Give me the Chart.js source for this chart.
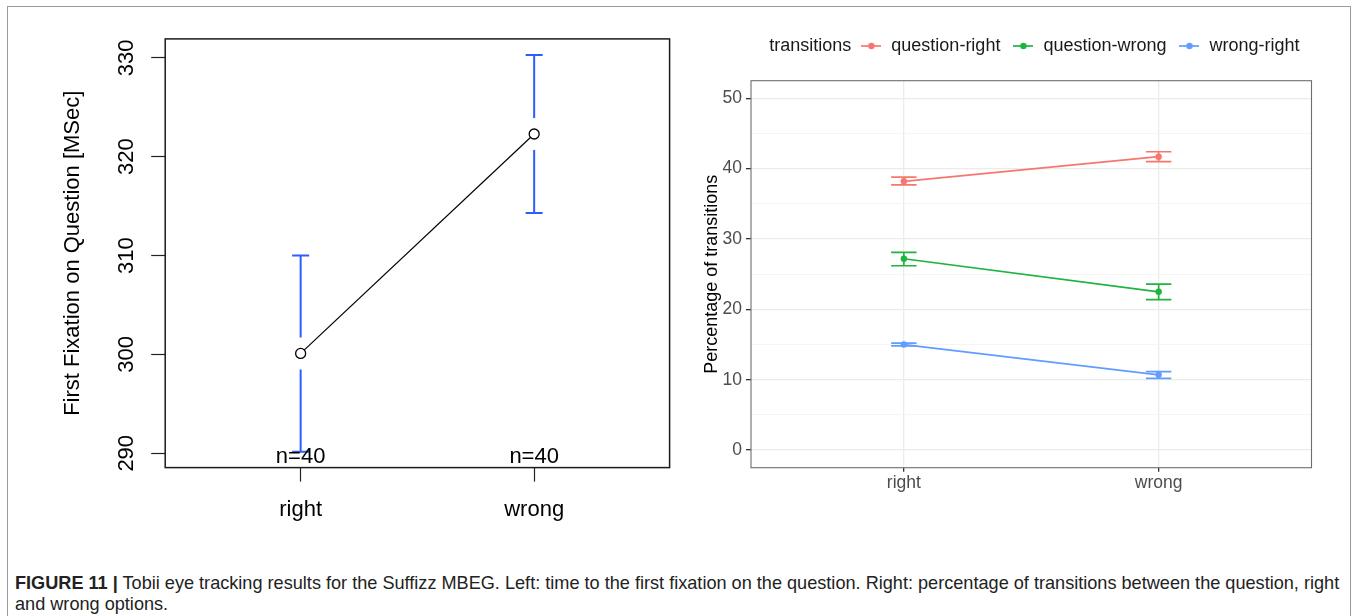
<!DOCTYPE html>
<html><head><meta charset="utf-8">
<script src="https://cdn.jsdelivr.net/npm/chart.js@4.4.1/dist/chart.umd.min.js"></script>
<style>
html,body{margin:0;padding:0;background:#fff;width:1357px;height:616px;overflow:hidden;}
#frame{position:absolute;left:7px;top:6px;width:1344px;height:700px;border:1px solid #9a9a9a;box-sizing:border-box;}
#c1{position:absolute;left:20px;top:10px;width:660px;height:520px;}
#c2{position:absolute;left:690px;top:20px;width:652px;height:500px;}
#cap{position:absolute;left:15px;top:573px;font:18.14px "Liberation Sans",Arial,sans-serif;line-height:21px;color:#222;white-space:nowrap;}
</style></head><body>
<div id="frame"></div>
<canvas id="c1" width="660" height="520"></canvas>
<canvas id="c2" width="652" height="500"></canvas>
<div id="cap"><b>FIGURE 11 |</b> Tobii eye tracking results for the Suffizz MBEG. Left: time to the first fixation on the question. Right: percentage of transitions between the question, right<br>and wrong options.</div>
<script>
// ---- data ----
const categories = ['right', 'wrong'];
// left panel
const fixMeans = [300.1, 322.3];
const fixLower = [290.15, 314.3];
const fixUpper = [310.0, 330.3];
const fixCounts = ['n=40', 'n=40'];
const fixYTicks = [290, 300, 310, 320, 330];
const fixYTitle = 'First Fixation on Question [MSec]';
// right panel
const seriesNames = ['question-right', 'question-wrong', 'wrong-right'];
const qRightMean = [38.2, 41.7];
const qRightLow = [37.7, 41.0];
const qRightHigh = [38.8, 42.4];
const qWrongMean = [27.2, 22.5];
const qWrongLow = [26.2, 21.4];
const qWrongHigh = [28.1, 23.6];
const wRightMean = [15.0, 10.7];
const wRightLow = [14.8, 10.2];
const wRightHigh = [15.2, 11.15];
const pctYTicks = [0, 10, 20, 30, 40, 50];
const pctYMinor = [5, 15, 25, 35, 45];
const pctYTitle = 'Percentage of transitions';
const legendTitle = 'transitions';

// ---- styles ----
const FONT = '"Liberation Sans", Arial, Helvetica, sans-serif';
Chart.defaults.font.family = FONT;
const seriesColors = ['#F8766D', '#1DB440', '#619CFF'];
const pctSeries = [
  {mean: qRightMean, low: qRightLow, high: qRightHigh},
  {mean: qWrongMean, low: qWrongLow, high: qWrongHigh},
  {mean: wRightMean, low: wRightLow, high: wRightHigh}
];
const xy = arr => arr.map((v, i) => ({x: i + 1, y: v}));

// ---- left chart ----
const leftPlugin = {
  id: 'leftDeco',
  afterDatasetsDraw(chart) {
    const {ctx, chartArea: a, scales: {x, y}} = chart;
    ctx.save();
    ctx.strokeStyle = '#2f5cff';
    ctx.lineWidth = 2;
    const gap = 16, cap = 8.5;
    fixMeans.forEach((m, i) => {
      const px = x.getPixelForValue(i + 1);
      const pm = y.getPixelForValue(m);
      const pl = y.getPixelForValue(fixLower[i]);
      const pu = y.getPixelForValue(fixUpper[i]);
      ctx.beginPath();
      ctx.moveTo(px, pu); ctx.lineTo(px, pm - gap);
      ctx.moveTo(px, pm + gap); ctx.lineTo(px, pl);
      ctx.moveTo(px - cap, pu); ctx.lineTo(px + cap, pu);
      ctx.moveTo(px - cap, pl); ctx.lineTo(px + cap, pl);
      ctx.stroke();
    });
    ctx.strokeStyle = '#1a1a1a';
    ctx.lineWidth = 1.5;
    ctx.strokeRect(a.left, a.top, a.right - a.left, a.bottom - a.top);
    ctx.fillStyle = '#000';
    ctx.font = '22px ' + FONT;
    ctx.textAlign = 'center';
    ctx.textBaseline = 'alphabetic';
    fixCounts.forEach((t, i) => {
      ctx.fillText(t, x.getPixelForValue(i + 1), a.bottom - 5);
    });
    ctx.restore();
  }
};

new Chart(document.getElementById('c1'), {
  type: 'line',
  data: {datasets: [{
    label: 'mean', data: xy(fixMeans),
    borderColor: '#000', borderWidth: 1.2, tension: 0,
    pointRadius: 5, pointHoverRadius: 5, pointBorderWidth: 1.3,
    pointBorderColor: '#000', pointBackgroundColor: '#fff'
  }]},
  options: {
    responsive: false, animation: false, events: [],
    layout: {padding: {top: 28.9, right: 10.4, left: 0, bottom: 0}},
    plugins: {legend: {display: false}, tooltip: {enabled: false}},
    scales: {
      x: {
        type: 'linear', min: 0.42, max: 2.58,
        afterBuildTicks(s) { s.ticks = categories.map((c, i) => ({value: i + 1})); },
        afterFit(s) { s.height = 62.4; },
        ticks: {font: {size: 22}, color: '#000', padding: 14.8, maxRotation: 0, autoSkip: false,
                callback: (v, i) => categories[i]},
        grid: {drawOnChartArea: false, tickLength: 14, tickColor: '#222', tickWidth: 1.2},
        border: {display: false}
      },
      y: {
        type: 'linear', min: 288.55, max: 331.92,
        afterBuildTicks(s) { s.ticks = fixYTicks.map(v => ({value: v})); },
        afterFit(s) { s.width = 145.2; },
        ticks: {font: {size: 22}, color: '#000', padding: 5.85, minRotation: 90, maxRotation: 90,
                crossAlign: 'center', autoSkip: false, callback: v => String(v)},
        grid: {drawOnChartArea: false, tickLength: 14, tickColor: '#222', tickWidth: 1.2},
        border: {display: false},
        title: {display: true, text: fixYTitle, font: {size: 22}, color: '#000', padding: {top: 39.3, bottom: 0}}
      }
    }
  },
  plugins: [leftPlugin]
});

// ---- right chart ----
function keyImage(color) {
  const c = document.createElement('canvas');
  c.width = 20; c.height = 8;
  const g = c.getContext('2d');
  g.strokeStyle = color; g.lineWidth = 1.7;
  g.beginPath(); g.moveTo(0, 4); g.lineTo(20, 4); g.stroke();
  g.fillStyle = color;
  g.beginPath(); g.arc(10, 4, 3.2, 0, Math.PI * 2); g.fill();
  return c;
}
const keyImgs = seriesColors.map(keyImage);
const errHalfWidth = 0.05;
const isMajor = v => pctYTicks.includes(v);

const rightPlugin = {
  id: 'rightDeco',
  beforeDatasetsDraw(chart) {
    const {ctx, scales: {x, y}} = chart;
    ctx.save();
    ctx.lineWidth = 1.7;
    pctSeries.forEach((s, k) => {
      ctx.strokeStyle = seriesColors[k];
      s.mean.forEach((m, i) => {
        const px = x.getPixelForValue(i + 1);
        const x0 = x.getPixelForValue(i + 1 - errHalfWidth);
        const x1 = x.getPixelForValue(i + 1 + errHalfWidth);
        const pl = y.getPixelForValue(s.low[i]);
        const ph = y.getPixelForValue(s.high[i]);
        ctx.beginPath();
        ctx.moveTo(px, pl); ctx.lineTo(px, ph);
        ctx.moveTo(x0, pl); ctx.lineTo(x1, pl);
        ctx.moveTo(x0, ph); ctx.lineTo(x1, ph);
        ctx.stroke();
      });
    });
    ctx.restore();
  },
  afterDraw(chart) {
    const {ctx, chartArea: a} = chart;
    ctx.save();
    ctx.strokeStyle = '#6e6e6e';
    ctx.lineWidth = 1.1;
    ctx.strokeRect(a.left, a.top, a.right - a.left, a.bottom - a.top);
    const hb = chart.legend.legendHitBoxes[0];
    if (hb) {
      ctx.font = '18px ' + FONT;
      ctx.fillStyle = '#1a1a1a';
      ctx.textAlign = 'right';
      ctx.textBaseline = 'middle';
      ctx.fillText(legendTitle, hb.left - 9, hb.top + hb.height / 2);
    }
    ctx.restore();
  }
};

new Chart(document.getElementById('c2'), {
  type: 'line',
  data: {datasets: seriesNames.map((name, k) => ({
    label: name, data: xy(pctSeries[k].mean),
    borderColor: seriesColors[k], backgroundColor: seriesColors[k],
    borderWidth: 1.7, tension: 0,
    pointRadius: 3.2, pointHoverRadius: 3.2, pointBorderWidth: 0
  }))},
  options: {
    responsive: false, animation: false, events: [],
    layout: {padding: {top: 5, right: 30.5, left: 0, bottom: 0}},
    plugins: {
      tooltip: {enabled: false},
      title: {display: true, text: '', weight: 100, padding: {top: 0, bottom: 14.7}, font: {size: 1, lineHeight: 1}},
      legend: {
        position: 'top', align: 'end', fullSize: false, weight: 1000,
        labels: {
          usePointStyle: true, pointStyleWidth: 22, padding: 12,
          font: {size: 18}, color: '#1a1a1a',
          generateLabels(chart) {
            const items = Chart.defaults.plugins.legend.labels.generateLabels(chart);
            items.forEach(it => { it.pointStyle = keyImgs[it.datasetIndex]; });
            return items;
          }
        }
      }
    },
    scales: {
      x: {
        type: 'linear', min: 0.4, max: 2.6,
        afterBuildTicks(s) { s.ticks = categories.map((c, i) => ({value: i + 1})); },
        afterFit(s) { s.height = 52.3; },
        ticks: {font: {size: 17.5}, color: '#4d4d4d', padding: 1, maxRotation: 0, autoSkip: false,
                callback: (v, i) => categories[i]},
        grid: {color: '#ebebeb', lineWidth: 1.3, tickColor: '#333', tickLength: 4},
        border: {display: false}
      },
      y: {
        type: 'linear', min: -2.5, max: 52.5,
        afterBuildTicks(s) {
          s.ticks = pctYTicks.concat(pctYMinor).sort((a, b) => a - b).map(v => ({value: v}));
        },
        afterFit(s) { s.width = 61; },
        ticks: {font: {size: 17.5}, color: '#4d4d4d', padding: 4, autoSkip: false,
                callback: v => isMajor(v) ? String(v) : ''},
        grid: {
          color: c => (c.tick && isMajor(c.tick.value)) ? '#ebebeb' : '#f3f3f3',
          lineWidth: c => (c.tick && isMajor(c.tick.value)) ? 1.3 : 0.8,
          tickColor: c => (c.tick && isMajor(c.tick.value)) ? '#333' : 'rgba(0,0,0,0)',
          tickLength: 5
        },
        border: {display: false},
        title: {display: true, text: pctYTitle, font: {size: 18}, color: '#000', padding: {top: 10.9, bottom: 0}}
      }
    }
  },
  plugins: [rightPlugin]
});
</script>
</body></html>
